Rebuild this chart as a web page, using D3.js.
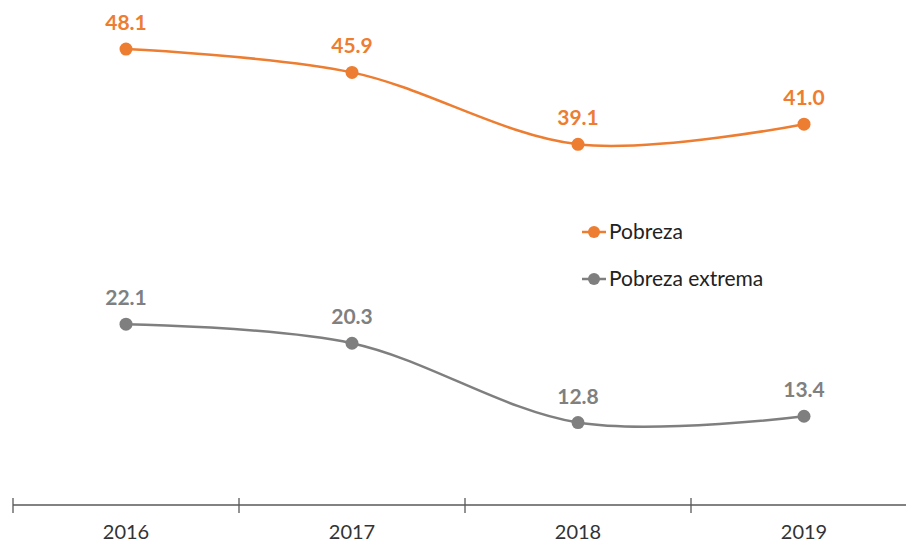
<!DOCTYPE html>
<html><head><meta charset="utf-8">
<script src="https://cdn.jsdelivr.net/npm/d3@7"></script>
<style>body{margin:0;background:#fff}svg{display:block}text{font-family:Lato,"Open Sans",sans-serif}</style>
</head><body><svg id="c" width="906" height="543"></svg>
<script>
const years = ["2016","2017","2018","2019"];
const pobreza = [48.1,45.9,39.1,41.0];
const extrema = [22.1,20.3,12.8,13.4];
const seriesNames = ["Pobreza","Pobreza extrema"];
const colors = ["#ED7D31","#7F7F7F"];
const labelColors = ["#ED7D31","#808080"];

const svg = d3.select("#c");
const x = d3.scaleBand().domain(years).range([13,917]);
const y = d3.scaleLinear().domain([0,50]).range([558,29]);

const axisY = 505;
const xAxis = d3.axisBottom(x).tickSize(0).tickPadding(0);
const g = svg.append("g").attr("transform",`translate(0,${axisY})`);
g.call(xAxis);
g.select(".domain").remove();
g.append("line").attr("x1",13).attr("x2",906).attr("y1",0).attr("y2",0).attr("stroke","#595959").attr("stroke-width",1.3);
const bounds = years.map(d=>x(d));
g.selectAll(".tk").data(bounds).enter().append("line")
  .attr("x1",d=>d).attr("x2",d=>d).attr("y1",-7).attr("y2",8).attr("stroke","#595959").attr("stroke-width",1.3);
g.selectAll(".tick text").attr("y",34).attr("dy",0).attr("font-size",20).attr("fill","#333").attr("font-family","Lato,sans-serif");

const data = [pobreza, extrema];
const line = d3.line().x((d,i)=>x(years[i])+x.bandwidth()/2).y(d=>y(d)).curve(d3.curveCardinal.tension(0));
data.forEach((s,k)=>{
  svg.append("path").attr("d",line(s)).attr("fill","none").attr("stroke",colors[k]).attr("stroke-width",2.5);
  svg.selectAll(".p"+k).data(s).enter().append("circle")
    .attr("cx",(d,i)=>x(years[i])+x.bandwidth()/2).attr("cy",d=>y(d)).attr("r",6.5).attr("fill",colors[k]);
  svg.selectAll(".l"+k).data(s).enter().append("text")
    .attr("x",(d,i)=>x(years[i])+x.bandwidth()/2).attr("y",d=>y(d)-19)
    .attr("text-anchor","middle").attr("font-size",21).attr("font-weight","bold").attr("fill",labelColors[k])
    .text(d=>d.toFixed(1));
});

const leg = svg.append("g");
seriesNames.forEach((n,k)=>{
  const ly = 232 + k*47;
  leg.append("line").attr("x1",582).attr("x2",606).attr("y1",ly).attr("y2",ly).attr("stroke",colors[k]).attr("stroke-width",2.5);
  leg.append("circle").attr("cx",594).attr("cy",ly).attr("r",6).attr("fill",colors[k]);
  leg.append("text").attr("x",609).attr("y",ly+7).attr("font-size",21).attr("fill","#222").text(n);
});
</script></body></html>
